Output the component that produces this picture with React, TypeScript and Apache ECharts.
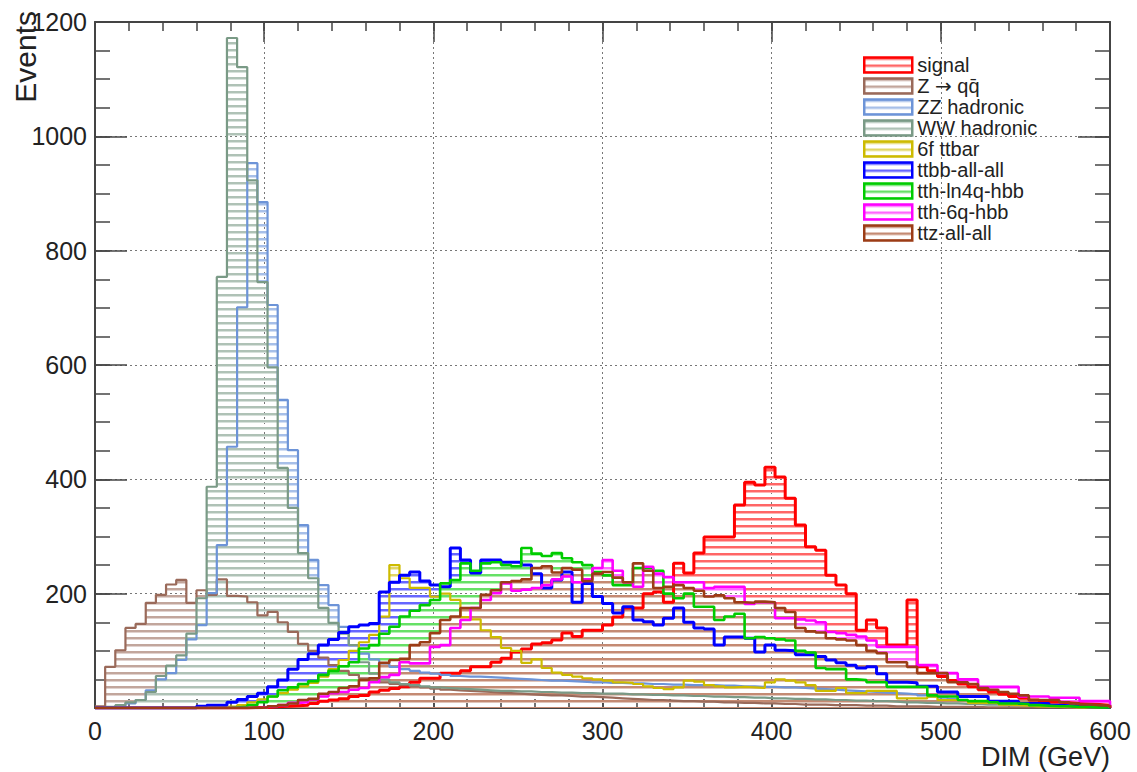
import React, { useEffect, useRef } from 'react';
import * as echarts from 'echarts';

const FONT = '"Liberation Sans", Arial, Helvetica, sans-serif';
const BIN_WIDTH = 6; // GeV, 100 bins from 0 to 600

const signal = [
  0, 0, 0, 0, 0, 0, 0, 0, 0, 0,
  0, 0, 0, 0, 0, 1, 1, 2, 3, 4,
  5, 8, 12, 14, 16, 20, 22, 28, 31, 34,
  37, 45, 52, 52, 61, 61, 65, 72, 72, 80,
  87, 98, 103, 112, 114, 119, 131, 125, 136, 136,
  145, 159, 175, 175, 200, 203, 185, 253, 236, 271,
  299, 299, 299, 355, 395, 390, 421, 404, 367, 320,
  282, 276, 232, 215, 200, 136, 154, 140, 110, 110,
  189, 72, 65, 55, 48, 42, 37, 32, 28, 24,
  20, 17, 14, 12, 10, 9, 8, 7, 6, 5,
];

const zqq = [
  3, 72, 101, 140, 147, 184, 198, 216, 224, 184,
  206, 198, 225, 196, 195, 185, 162, 168, 150, 133,
  112, 100, 88, 75, 65, 58, 52, 48, 45, 42,
  40, 38, 36, 34, 32, 31, 30, 29, 28, 27,
  26, 25, 24, 23, 22, 22, 21, 20, 20, 19,
  18, 17, 16, 15, 14, 14, 13, 12, 12, 11,
  11, 10, 10, 9, 9, 8, 8, 7, 7, 6,
  6, 6, 5, 5, 5, 4, 4, 4, 3, 3,
  3, 3, 2, 2, 2, 2, 2, 1, 1, 1,
  1, 1, 1, 1, 1, 0, 0, 0, 0, 0,
];

const zzHad = [
  0, 0, 1, 8, 14, 31, 50, 61, 84, 120,
  145, 201, 285, 457, 701, 953, 885, 705, 539, 451,
  320, 259, 215, 180, 142, 110, 95, 85, 78, 72,
  68, 65, 62, 60, 58, 56, 55, 55, 54, 53,
  52, 51, 50, 49, 48, 48, 47, 46, 45, 45,
  44, 44, 43, 43, 42, 42, 41, 41, 40, 40,
  40, 39, 39, 38, 38, 37, 37, 36, 36, 35,
  34, 33, 32, 31, 30, 29, 28, 27, 26, 25,
  24, 22, 20, 18, 16, 14, 12, 10, 9, 8,
  7, 6, 5, 5, 4, 4, 3, 3, 2, 2,
];

const wwHad = [
  0, 2, 5, 10, 14, 28, 56, 74, 92, 130,
  192, 387, 754, 1172, 1121, 923, 745, 596, 420, 350,
  271, 227, 175, 149, 130, 110, 80, 60, 50, 45,
  42, 40, 38, 36, 35, 34, 33, 32, 31, 30,
  30, 29, 29, 28, 28, 27, 27, 26, 26, 25,
  25, 25, 24, 24, 23, 23, 22, 22, 21, 21,
  20, 20, 19, 19, 18, 18, 17, 17, 16, 16,
  15, 15, 14, 14, 13, 13, 12, 12, 11, 10,
  10, 9, 9, 8, 8, 7, 7, 6, 6, 5,
  5, 4, 4, 3, 3, 3, 2, 2, 2, 1,
];

const ttbar6f = [
  0, 0, 0, 0, 0, 0, 0, 0, 0, 0,
  0, 1, 2, 3, 5, 10, 15, 20, 26, 32,
  38, 44, 55, 68, 84, 100, 115, 128, 160, 250,
  227, 210, 210, 195, 200, 189, 159, 155, 136, 124,
  105, 100, 79, 85, 70, 62, 58, 55, 52, 50,
  48, 45, 44, 42, 38, 35, 33, 36, 48, 46,
  40, 38, 36, 37, 36, 35, 45, 50, 48, 45,
  40, 30, 30, 35, 26, 26, 30, 30, 30, 17,
  17, 17, 20, 14, 14, 14, 9, 9, 9, 6,
  5, 4, 3, 3, 2, 2, 1, 1, 1, 1,
];

const ttbb = [
  0, 0, 0, 0, 0, 0, 0, 0, 0, 0,
  3, 5, 5, 10, 15, 20, 26, 37, 49, 68,
  85, 95, 110, 120, 132, 142, 145, 148, 203, 220,
  232, 238, 222, 215, 212, 280, 259, 236, 259, 259,
  255, 255, 250, 235, 210, 224, 238, 185, 218, 195,
  183, 166, 177, 154, 151, 145, 157, 175, 150, 140,
  138, 110, 124, 124, 122, 98, 110, 101, 100, 93,
  93, 90, 84, 79, 75, 70, 72, 60, 45, 45,
  44, 38, 38, 28, 28, 20, 20, 20, 12, 12,
  12, 8, 8, 8, 5, 4, 3, 2, 2, 1,
];

const tthLn4q = [
  0, 0, 0, 0, 0, 0, 0, 0, 0, 0,
  0, 0, 0, 1, 2, 5, 10, 20, 31, 36,
  42, 47, 58, 65, 73, 80, 104, 110, 130, 142,
  160, 170, 180, 189, 218, 224, 253, 240, 253, 255,
  250, 248, 280, 270, 266, 271, 262, 255, 250, 238,
  232, 215, 215, 245, 245, 240, 200, 192, 200, 177,
  177, 154, 160, 165, 122, 124, 122, 120, 118, 100,
  97, 70, 68, 68, 50, 49, 45, 45, 37, 37,
  37, 37, 22, 20, 20, 14, 12, 12, 10, 8,
  8, 7, 5, 4, 3, 3, 2, 2, 1, 1,
];

const tth6q = [
  0, 0, 0, 0, 0, 0, 0, 0, 0, 0,
  0, 0, 0, 0, 0, 0, 1, 3, 5, 9,
  10, 15, 20, 26, 28, 32, 35, 45, 54, 58,
  80, 78, 78, 107, 110, 140, 154, 175, 189, 201,
  218, 205, 207, 210, 215, 225, 230, 220, 225, 245,
  259, 240, 220, 212, 247, 235, 229, 220, 220, 220,
  210, 212, 212, 212, 182, 185, 185, 157, 157, 155,
  153, 150, 133, 131, 128, 125, 118, 107, 107, 107,
  107, 75, 75, 61, 61, 50, 50, 37, 37, 37,
  37, 20, 20, 20, 18, 18, 18, 12, 12, 12,
];

const ttz = [
  0, 0, 0, 0, 0, 0, 0, 0, 0, 0,
  0, 0, 0, 0, 0, 0, 1, 3, 5, 8,
  14, 16, 25, 28, 35, 38, 49, 52, 79, 84,
  86, 110, 115, 131, 154, 160, 175, 175, 198, 206,
  220, 222, 225, 245, 248, 237, 245, 242, 222, 235,
  238, 228, 220, 253, 240, 210, 212, 215, 210, 205,
  195, 197, 192, 185, 184, 186, 185, 175, 168, 140,
  134, 132, 122, 120, 118, 110, 100, 96, 80, 80,
  72, 61, 61, 61, 45, 45, 42, 35, 32, 28,
  25, 22, 14, 14, 14, 10, 8, 6, 5, 4,
];

const seriesNames = [
  'signal',
  'Z \u2192 qq\u0304',
  'ZZ hadronic',
  'WW hadronic',
  '6f ttbar',
  'ttbb-all-all',
  'tth-ln4q-hbb',
  'tth-6q-hbb',
  'ttz-all-all',
];
const seriesValues = [signal, zqq, zzHad, wwHad, ttbar6f, ttbb, tthLn4q, tth6q, ttz];
const seriesColors = ['#ff0000', '#9a6a5a', '#6d94d8', '#7a9a86', '#cdbb00', '#0000ff', '#00cc00', '#ff00ff', '#9c3c16'];
const seriesWidths = [3, 2.2, 2.2, 2.2, 2.2, 3, 2.6, 2.6, 2.6];

function mixWhite(hex: string, f: number) {
  const n = parseInt(hex.slice(1), 16);
  const r = (n >> 16) & 255;
  const g = (n >> 8) & 255;
  const b = n & 255;
  const m = (c: number) => Math.round(c * f + 255 * (1 - f));
  return `rgb(${m(r)},${m(g)},${m(b)})`;
}

function hatch(color: string) {
  const w = 8;
  const h = 7;
  const c = document.createElement('canvas');
  c.width = w;
  c.height = h;
  const ctx = c.getContext('2d')!;
  ctx.clearRect(0, 0, w, h);
  ctx.fillStyle = mixWhite(color, 0.6);
  ctx.fillRect(0, 0, w, 2);
  ctx.fillStyle = mixWhite(color, 0.3);
  ctx.fillRect(0, 2, w, 1);
  return { image: c.toDataURL(), repeat: 'repeat', imageWidth: w, imageHeight: h };
}

function toSteps(values: number[]) {
  const pts: number[][] = values.map((v, i) => [i * BIN_WIDTH, v]);
  pts.push([values.length * BIN_WIDTH, 0]);
  return pts;
}

export default function App() {
  const ref = useRef<HTMLDivElement>(null);
  useEffect(() => {
    if (!ref.current) return;
    const chart = echarts.init(ref.current, undefined, { renderer: 'svg' });
    const axisColor = '#444';
    const patterns = seriesColors.map((c) => hatch(c));

    const tickAxis = (kind: 'x' | 'y', position: string, interval: number, length: number, withLine: boolean) => ({
      type: 'value',
      min: 0,
      max: kind === 'x' ? 600 : 1200,
      interval,
      position,
      axisLine: { show: withLine, onZero: false, lineStyle: { color: axisColor, width: 2 } },
      axisTick: { show: true, inside: true, length, lineStyle: { color: axisColor, width: 1.5 } },
      axisLabel: { show: false },
      splitLine: { show: false },
    });

    const xMain = {
      ...tickAxis('x', 'bottom', 100, 20, true),
      axisLabel: { show: true, fontSize: 25, color: '#222', fontFamily: FONT, margin: 10 },
      splitLine: { show: true, lineStyle: { type: [2, 3], color: '#777', width: 1 } },
    };
    const yMain = {
      ...tickAxis('y', 'left', 200, 32, true),
      axisLabel: {
        show: true,
        fontSize: 25,
        color: '#222',
        fontFamily: FONT,
        margin: 8,
        showMinLabel: false,
        formatter: (v: number) => String(v),
      },
      splitLine: { show: true, lineStyle: { type: [2, 3], color: '#777', width: 1 } },
    };

    const areaSeries = seriesNames.map((name, i) => ({
      name,
      type: 'line',
      xAxisIndex: 0,
      yAxisIndex: 0,
      step: 'end',
      symbol: 'none',
      silent: true,
      z: 2,
      data: toSteps(seriesValues[i]),
      lineStyle: { color: seriesColors[i], width: 0, opacity: 0 },
      itemStyle: { color: seriesColors[i] },
      areaStyle: { color: patterns[i], opacity: 1 },
    }));
    const lineSeries = seriesNames.map((name, i) => ({
      name,
      type: 'line',
      xAxisIndex: 0,
      yAxisIndex: 0,
      step: 'end',
      symbol: 'none',
      silent: true,
      z: 3,
      data: toSteps(seriesValues[i]),
      lineStyle: { color: seriesColors[i], width: seriesWidths[i] },
      itemStyle: { color: seriesColors[i] },
    }));

    chart.setOption({
      animation: false,
      backgroundColor: '#ffffff',
      grid: { left: 95, right: 27, top: 22, bottom: 64, containLabel: false },
      xAxis: [
        xMain,
        tickAxis('x', 'top', 100, 20, true),
        tickAxis('x', 'bottom', 20, 9, false),
        tickAxis('x', 'top', 20, 9, false),
      ],
      yAxis: [
        yMain,
        tickAxis('y', 'right', 200, 32, true),
        tickAxis('y', 'left', 50, 15, false),
        tickAxis('y', 'right', 50, 15, false),
      ],
      legend: {
        orient: 'vertical',
        left: 858,
        top: 50,
        itemWidth: 48,
        itemHeight: 15,
        itemGap: 1,
        selectedMode: false,
        formatter: (name: string) => name.replace('\u2192', '{a|\u2192}'),
        textStyle: {
          fontSize: 20,
          lineHeight: 20,
          color: '#222',
          fontFamily: FONT,
          rich: { a: { fontSize: 20, lineHeight: 20, color: '#222', fontFamily: '"DejaVu Sans", sans-serif' } },
        },
        data: seriesNames.map((name, i) => ({
          name,
          icon: 'rect',
          itemStyle: { color: patterns[i], borderColor: seriesColors[i], borderWidth: 2.5 },
        })),
      },
      graphic: [
        {
          type: 'text',
          x: 1110,
          y: 757,
          style: { text: 'DIM (GeV)', fontSize: 27, fill: '#222', fontFamily: FONT, align: 'right', verticalAlign: 'middle' },
        },
        {
          type: 'text',
          x: 25,
          y: 11,
          rotation: Math.PI / 2,
          style: { text: 'Events', fontSize: 30, fill: '#222', fontFamily: FONT, align: 'right', verticalAlign: 'middle' },
        },
      ],
      series: [...areaSeries, ...lineSeries],
    });
    return () => chart.dispose();
  }, []);
  return <div ref={ref} style={{ position: 'absolute', left: 0, top: 0, width: 1137, height: 772 }} />;
}
